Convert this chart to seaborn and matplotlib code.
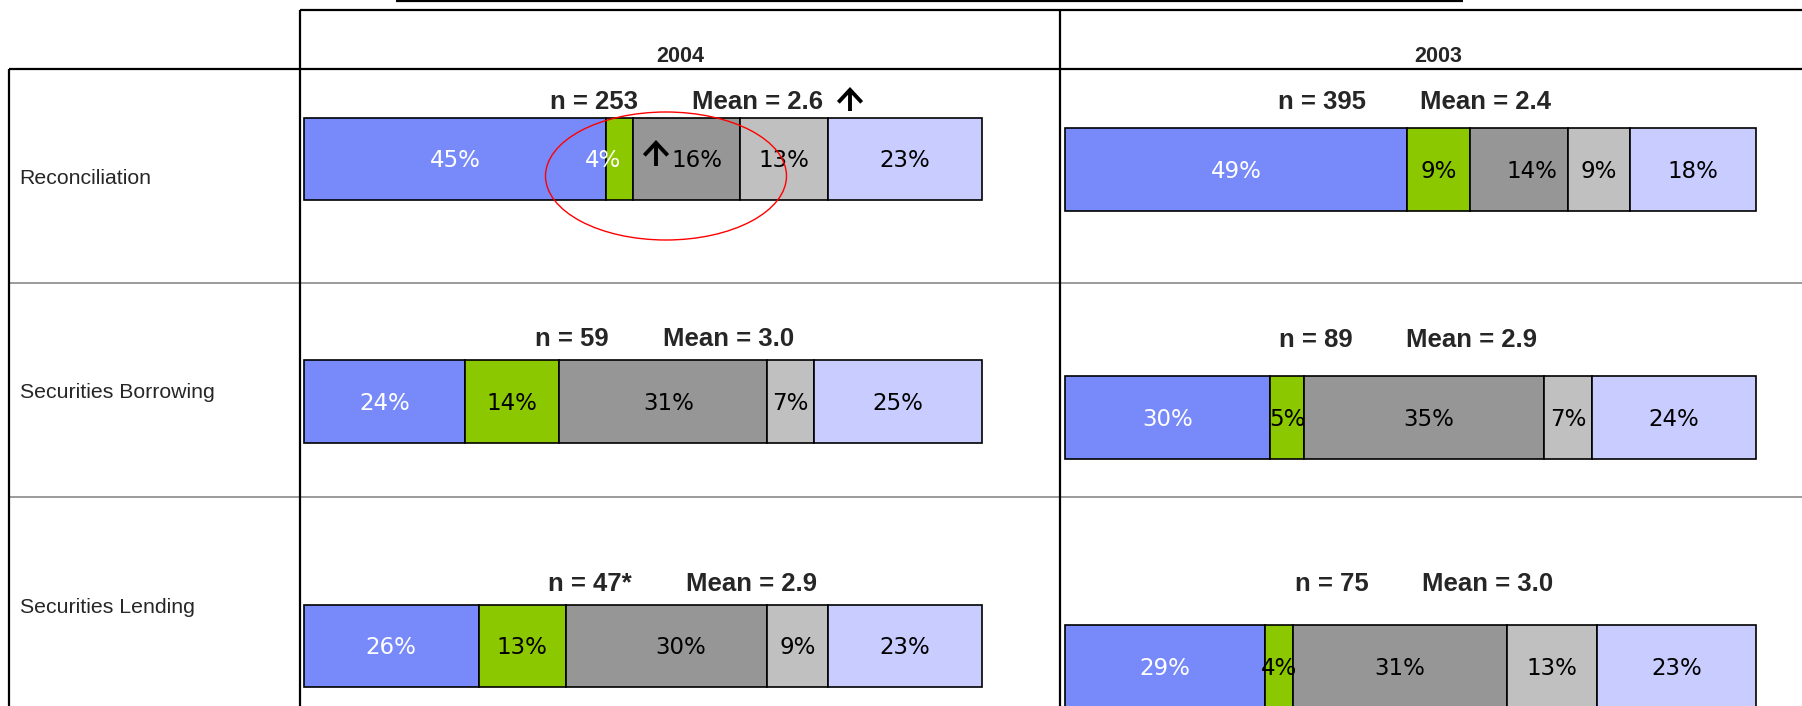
import matplotlib
matplotlib.use("Agg")
import matplotlib.pyplot as plt
import matplotlib.transforms as mtransforms
from matplotlib.patches import Ellipse, FancyArrowPatch
from matplotlib.lines import Line2D
import seaborn as sns

# ---------------- data ----------------
categories = ["Reconciliation", "Securities Borrowing", "Securities Lending"]
years = ["2004", "2003"]
pct_2004 = [[45, 4, 16, 13, 23], [24, 14, 31, 7, 25], [26, 13, 30, 9, 23]]
pct_2003 = [[49, 9, 14, 9, 18], [30, 5, 35, 7, 24], [29, 4, 31, 13, 23]]
n_2004 = ["253", "59", "47*"]
n_2003 = ["395", "89", "75"]
mean_2004 = ["2.6", "3.0", "2.9"]
mean_2003 = ["2.4", "2.9", "3.0"]

# ---------------- style ----------------
sns.set_style("white")
plt.rcParams["font.family"] = ["Liberation Sans", "DejaVu Sans"]
seg_colors = ["#788AFA", "#8CC800", "#969696", "#C0C0C0", "#C8CCFF"]
label_colors = ["white", "black", "black", "black", "black"]

W, H = 1802, 706
fig = plt.figure(figsize=(W / 100, H / 100), dpi=100)
fig.patch.set_facecolor("white")


def fx(px):
    return px / W


def fy(py):
    return 1 - py / H


def hline(y, x0, x1, color="black", lw=1.5):
    fig.add_artist(Line2D([fx(x0), fx(x1)], [fy(y), fy(y)], transform=fig.transFigure,
                          color=color, lw=lw, solid_capstyle="butt"))


def vline(x, y0, y1, color="black", lw=1.5):
    fig.add_artist(Line2D([fx(x), fx(x)], [fy(y0), fy(y1)], transform=fig.transFigure,
                          color=color, lw=lw, solid_capstyle="butt"))


def up_arrow(x, ytop, ybot):
    fig.add_artist(FancyArrowPatch((fx(x), fy(ybot)), (fx(x), fy(ytop)),
                                   transform=fig.transFigure,
                                   arrowstyle="->,head_length=0.45,head_width=0.42",
                                   mutation_scale=20, lw=2.8, color="black",
                                   shrinkA=0, shrinkB=0, zorder=12,
                                   joinstyle="miter", capstyle="butt"))


# ---------------- table grid ----------------
hline(0.8, 396, 1463, lw=1.6)
hline(10, 300, W, lw=1.6)
hline(69.3, 9, W, lw=1.6)
hline(283.3, 9, W, color="#808080", lw=1.1)
hline(497, 9, W, color="#808080", lw=1.1)
vline(9.3, 69.3, H, lw=1.6)
vline(300, 10, H, lw=1.6)
vline(1059.6, 10, H, lw=1.6)

# headers
fig.text(fx(680), fy(62.3), "2004", ha="center", va="baseline", fontsize=15.5, fontweight="bold")
fig.text(fx(1438.5), fy(62.3), "2003", ha="center", va="baseline", fontsize=15.5, fontweight="bold")

# row labels
row_label_base = [184, 398, 613]
for cat, yb in zip(categories, row_label_base):
    fig.text(fx(19.5), fy(yb), cat, ha="left", va="baseline", fontsize=15.3)

# ---------------- bars ----------------
layout = {
    "2004": dict(x=(304, 982), y=[(117.7, 199.5), (360, 443.3), (605.3, 686.7)],
                 stat_base=[109, 346, 590.7], n_x=[550, 535, 548], mean_x=[692, 663, 686]),
    "2003": dict(x=(1065, 1756), y=[(127.7, 210.5), (376, 459.3), (625.3, 708)],
                 stat_base=[109, 346.7, 590.7], n_x=[1278, 1279, 1295], mean_x=[1419.5, 1406, 1422]),
}
label_shift = {("2004", 0, 1): (-17, "white"), ("2004", 0, 2): (10, None),
               ("2003", 0, 2): (13, None), ("2004", 2, 2): (14, None),
               ("2004", 1, 2): (6, None), ("2003", 1, 2): (5, None)}

pct_by_year = {"2004": pct_2004, "2003": pct_2003}
n_by_year = {"2004": n_2004, "2003": n_2003}
mean_by_year = {"2004": mean_2004, "2003": mean_2003}

pct_font = dict(family=["DejaVu Sans"], weight="normal", size=16.5)

axes = {}
for yr in years:
    lay = layout[yr]
    x0, x1 = lay["x"]
    for r, cat in enumerate(categories):
        y0, y1 = lay["y"][r]
        ax = fig.add_axes([fx(x0), fy(y1), (x1 - x0) / W, (y1 - y0) / H])
        axes[(yr, r)] = ax
        vals = pct_by_year[yr][r]
        cum = 0
        for i, v in enumerate(vals):
            sns.barplot(x=[v], y=[cat], orient="h", left=cum, color=seg_colors[i],
                        saturation=1, width=1, edgecolor="black", linewidth=1.2,
                        errorbar=None, ax=ax)
            dx, col = label_shift.get((yr, r, i), (0, None))
            tr = mtransforms.offset_copy(ax.transData, fig=fig, x=dx, y=-2, units="dots")
            ax.text(cum + v / 2, 0, f"{v}%", transform=tr, ha="center", va="center",
                    color=col or label_colors[i], fontdict=pct_font, zorder=5)
            cum += v
        ax.set_xlim(0, sum(vals))
        ax.set_ylim(0.5, -0.5)
        for p in ax.patches:
            p.set_clip_on(False)
        ax.set_axis_off()

        # n and mean annotations
        yb = lay["stat_base"][r]
        fig.text(fx(lay["n_x"][r]), fy(yb), f"n = {n_by_year[yr][r]}", ha="left", va="baseline",
                 fontsize=18.5, fontweight="bold")
        fig.text(fx(lay["mean_x"][r]), fy(yb), f"Mean = {mean_by_year[yr][r]}", ha="left",
                 va="baseline", fontsize=18.5, fontweight="bold")

# significance arrows
up_arrow(850, 87, 111)
up_arrow(656, 140, 166)

# red highlight ellipse
fig.add_artist(Ellipse((fx(666), fy(176)), width=241 / W, height=128 / H,
                       transform=fig.transFigure, fill=False, edgecolor="red", lw=1.0, zorder=10))

fig.savefig("out.png", dpi=100, facecolor="white")
